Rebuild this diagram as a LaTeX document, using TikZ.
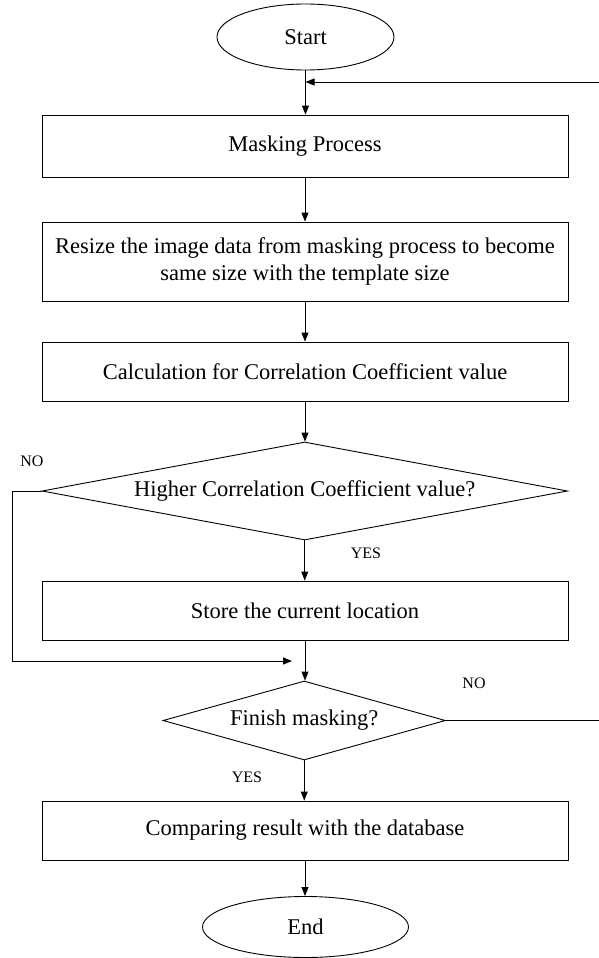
\documentclass[tikz,border=0pt]{standalone}
\usepackage{fontspec}
\setmainfont{Liberation Serif}
\usetikzlibrary{shapes.geometric,arrows.meta}
\begin{document}
\begin{tikzpicture}[x=1pt,y=-1pt,
  every node/.style={font=\fontsize{22.5}{27.3}\selectfont},
  line/.style={draw, line width=0.9pt},
  arr/.style={line, -{Triangle[length=9pt,width=7pt]}},
  procbox/.style={draw, line width=0.9pt, rectangle, minimum width=526pt, inner sep=0pt, align=center},
  term/.style={draw, line width=0.9pt, ellipse, inner sep=0pt},
  decide/.style={draw, line width=0.9pt, diamond, inner sep=0pt, aspect=6},
  lbl/.style={font=\fontsize{16}{19}\selectfont, inner sep=0pt}]
\useasboundingbox (0,0) rectangle (598,958);
\node[term, minimum width=177pt, minimum height=66pt] (start) at (305.5,37) {Start};
\node[procbox, minimum height=62pt] (mask) at (305,146) {Masking Process};
\node[procbox, minimum height=79pt] (resize) at (305,261.5) {Resize the image data from masking process to become\\same size with the template size};
\node[procbox, minimum height=59pt] (calc) at (305,371.5) {Calculation for Correlation Coefficient value};
\node[decide, minimum width=525.5pt, minimum height=98pt] (high) at (304.75,491) {Higher Correlation Coefficient value?};
\node[procbox, minimum height=59pt] (store) at (305,610.5) {Store the current location};
\node[decide, minimum width=282.5pt, minimum height=79pt] (fin) at (304.25,720.5) {Finish masking?};
\node[procbox, minimum height=59pt] (comp) at (305,830.5) {Comparing result with the database};
\node[term, minimum width=206pt, minimum height=61pt] (end) at (305.5,927) {End};
\node[lbl] (no1) at (32,461) {NO};
\node[lbl] (yes1) at (366,553) {YES};
\node[lbl] (no2) at (474,683) {NO};
\node[lbl] (yes2) at (247,777) {YES};
\coordinate (fbR) at (600,82);
\coordinate (fbL) at (305.5,82);
\coordinate (retTip) at (292,661);
\draw[arr] (start.south) -- (start.south |- mask.north);
\draw[arr] (mask) -- (resize);
\draw[arr] (resize) -- (calc);
\draw[arr] (calc.south) -- (calc.south |- high.north);
\draw[arr] (high.south) -- (high.south |- store.north);
\draw[arr] (store.south) -- (store.south |- fin.north);
\draw[arr] (fin.south) -- (fin.south |- comp.north);
\draw[arr] (comp.south) -- (comp.south |- end.north);
\draw[arr] (high.west) -- ++(-29.5,0) |- (retTip);
\draw[line] (fin.east) -| (fbR);
\draw[arr] (fbR) -- (fbL);
\end{tikzpicture}
\end{document}
